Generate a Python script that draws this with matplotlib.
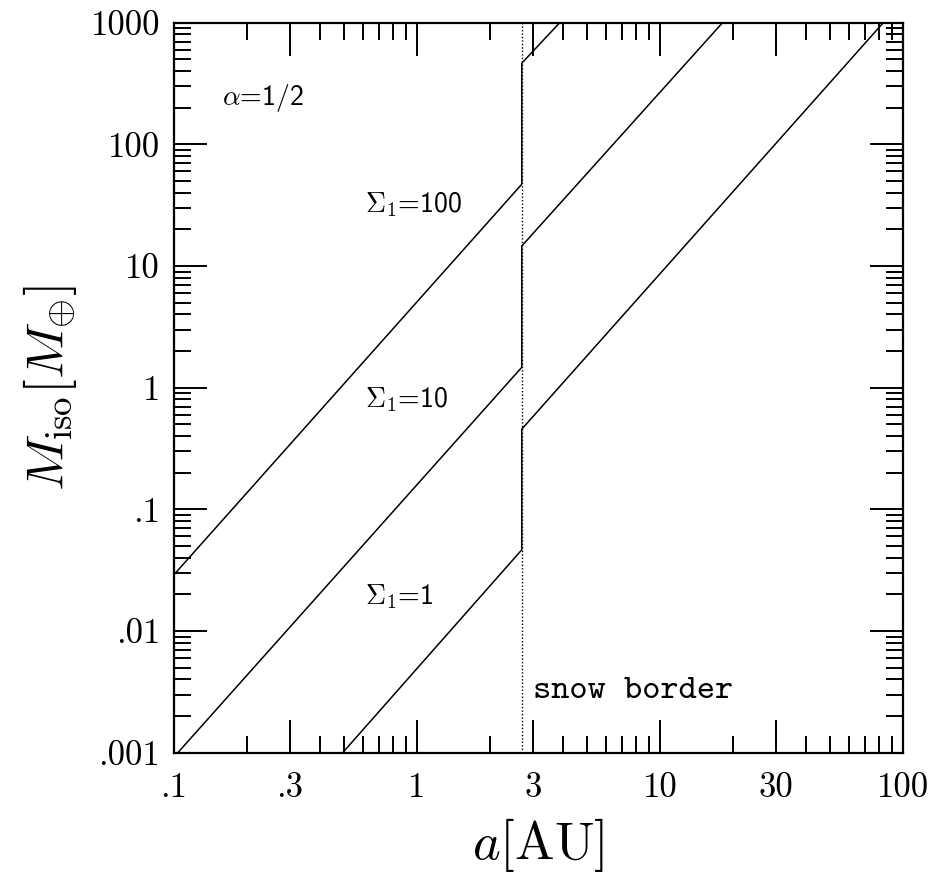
import numpy as np
import matplotlib
matplotlib.use("Agg")
import matplotlib.pyplot as plt
from matplotlib.ticker import FixedLocator, FixedFormatter, NullFormatter

plt.rcParams['mathtext.fontset'] = 'cm'

# snow border position [AU]
snow = 2.7

# each curve: inner part (inside snow border) then outer part, joined at the border
sigma_labels = ['100', '10', '1']
curve_x = [
    [0.1, 2.7, 2.7, 3.87],
    [0.1038, 2.7, 2.7, 18.1],
    [0.495, 2.7, 2.7, 83.0],
]
curve_y = [
    [0.029, 47.0, 464.0, 1000.0],
    [0.001, 1.47, 14.6, 1000.0],
    [0.001, 0.0465, 0.456, 1000.0],
]
label_pos = [(0.61, 32.0), (0.61, 0.8), (0.61, 0.019)]

x_major = [0.1, 0.3, 1, 3, 10, 30, 100]
x_labels = ['.1', '.3', '1', '3', '10', '30', '100']
y_major = [0.001, 0.01, 0.1, 1, 10, 100, 1000]
y_labels = ['.001', '.01', '.1', '1', '10', '100', '1000']

fig = plt.figure(figsize=(9.40, 8.82), dpi=100)
ax = fig.add_axes([0.185, 0.1466, 0.7756, 0.8277])

for xs, ys in zip(curve_x, curve_y):
    ax.plot(xs, ys, color='black', lw=1.1)

ax.axvline(snow, color='black', lw=1.0, ls=(0, (1, 1.5)))

ax.set_xscale('log')
ax.set_yscale('log')
ax.set_xlim(0.1, 100)
ax.set_ylim(0.001, 1000)

# minor ticks at all other integer multiples
x_minor = [m * 10.0 ** e for e in range(-1, 2) for m in range(2, 10) if m != 3]
y_minor = [m * 10.0 ** e for e in range(-3, 3) for m in range(2, 10)]
ax.xaxis.set_major_locator(FixedLocator(x_major))
ax.xaxis.set_major_formatter(FixedFormatter(x_labels))
ax.xaxis.set_minor_locator(FixedLocator(x_minor))
ax.xaxis.set_minor_formatter(NullFormatter())
ax.yaxis.set_major_locator(FixedLocator(y_major))
ax.yaxis.set_major_formatter(FixedFormatter(y_labels))
ax.yaxis.set_minor_locator(FixedLocator(y_minor))
ax.yaxis.set_minor_formatter(NullFormatter())

ax.tick_params(which='both', direction='in', top=True, right=True, width=1.4)
ax.tick_params(which='major', length=24, labelsize=25)
ax.tick_params(which='minor', length=12)
ax.tick_params(axis='x', which='major', pad=14)
ax.tick_params(axis='y', which='major', pad=10)
for lab in ax.get_xticklabels() + ax.get_yticklabels():
    lab.set_fontfamily('cmr10')
for s in ax.spines.values():
    s.set_linewidth(1.6)

for lab, (tx, ty) in zip(sigma_labels, label_pos):
    ax.text(tx, ty, r'$\Sigma_1$=' + lab, fontsize=20, family='cmss10',
            ha='left', va='center')
ax.text(0.158, 240, r'$\alpha$=1/2', fontsize=20, family='cmss10',
        ha='left', va='center')
ax.text(3.0, 0.0032, 'snow border', fontsize=25, family='cmtt10',
        ha='left', va='center')

ax.set_xlabel(r'$a[{\rm AU}]$', fontsize=38, labelpad=9)
ax.set_ylabel(r'$M_{\rm iso}[M_{\oplus}]$', fontsize=38, labelpad=8)

fig.savefig('out.png', dpi=100)
